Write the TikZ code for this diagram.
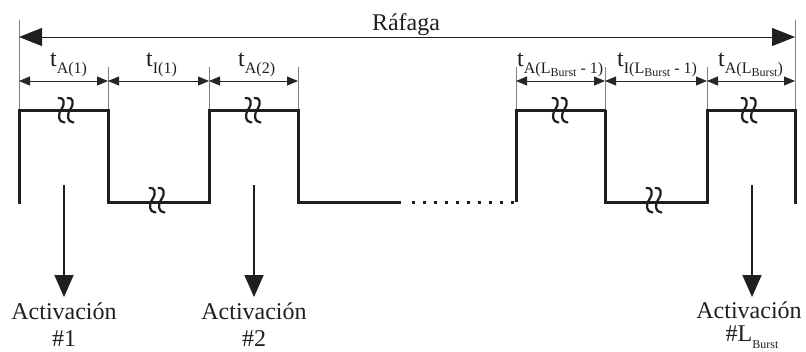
\documentclass[tikz,border=0pt]{standalone}
\usepackage{fontspec}
\setmainfont{Liberation Serif}
\usetikzlibrary{arrows.meta}
\newcommand\sbs[1]{\raisebox{-7pt}{\fontsize{16}{16}\selectfont #1}}
\newcommand\ssbs[1]{\raisebox{-3pt}{\fontsize{12}{12}\selectfont #1}}
\begin{document}
\begin{tikzpicture}[x=1pt,y=-1pt,
  pulse/.style={line width=3pt,black!88,line join=miter},
  dotline/.style={line width=3pt,black!88,dash pattern=on 3pt off 8pt},
  tick/.style={black!50,line width=0.8pt},
  dim/.style={black!85,line width=0.9pt,{Triangle[length=11pt,width=9pt]}-{Triangle[length=11pt,width=9pt]}},
  burst/.style={black!88,line width=1pt,{Triangle[length=23pt,width=18pt]}-{Triangle[length=23pt,width=18pt]}},
  actarrow/.style={black!88,line width=1.8pt,-{Triangle[length=22pt,width=19pt]}},
  txt/.style={inner sep=0pt,font=\fontsize{24}{28}\selectfont,text=black!88},
  squig/.pic={
    \foreach \d in {-4.5,4.5}{
      \draw[line width=2.2pt,black!88,line cap=round]
        (\d-3,-12) .. controls (\d+2.5,-13) and (\d+4,-7) .. (\d,-1)
        .. controls (\d-4,5) and (\d-3.5,12) .. (\d+3,12.5);
    }
  }]
\useasboundingbox (0,0) rectangle (806,351);

% key coordinates
\coordinate (L0) at (19,20);   \coordinate (L1) at (19,110);
\coordinate (R0) at (795,20);  \coordinate (R1) at (795,110);
\coordinate (b0) at (19,37);   \coordinate (b1) at (795,37);
\foreach \n/\x in {t1/108,t2/209,t3/298,t4/516,t5/605,t6/707}{
  \coordinate (\n a) at (\x,67); \coordinate (\n b) at (\x,110);
}

% ticks
\draw[tick] (L0) -- (L1);
\draw[tick] (R0) -- (R1);
\foreach \n in {t1,t2,t3,t4,t5,t6}{ \draw[tick] (\n a) -- (\n b); }

% burst arrow
\draw[burst] (b0) -- (b1);
\node[txt,anchor=base] (rafaga) at (406,30) {Ráfaga};

% dimension arrows
\coordinate (d0) at (19,81); \coordinate (d1) at (108,81); \coordinate (d2) at (209,81);
\coordinate (d3) at (298,81); \coordinate (d4) at (516,81); \coordinate (d5) at (605,81);
\coordinate (d6) at (707,81); \coordinate (d7) at (795,81);
\draw[dim] (d0) -- (d1);
\draw[dim] (d1) -- (d2);
\draw[dim] (d2) -- (d3);
\draw[dim] (d4) -- (d5);
\draw[dim] (d5) -- (d6);
\draw[dim] (d6) -- (d7);

% labels
\node[txt,anchor=base west] (lA1) at (50,66) {t\sbs{A(1)}};
\node[txt,anchor=base west] (lI1) at (146,66) {t\sbs{I(1)}};
\node[txt,anchor=base west] (lA2) at (238,66) {t\sbs{A(2)}};
\node[txt,anchor=base west] (lAL1) at (517,66) {t\sbs{A(L\ssbs{Burst} - 1)}};
\node[txt,anchor=base west] (lIL1) at (617,66) {t\sbs{I(L\ssbs{Burst} - 1)}};
\node[txt,anchor=base west] (lAL) at (718,66) {t\sbs{A(L\ssbs{Burst})}};

% pulse train
\draw[pulse] (19,204) -- (19,110) -- (108,110) -- (108,202) -- (209,202) -- (209,110)
  -- (298,110) -- (298,202) -- (401,202);
\draw[dotline] (411.5,202) -- (516,202);
\draw[pulse] (516,202) -- (516,110) -- (606,110);
\draw[pulse] (605,110) -- (605,202) -- (707,202) -- (707,110) -- (795,110) -- (795,204);

% squiggles
\pic at (66,110) {squig};
\pic at (157,200) {squig};
\pic at (253,110) {squig};
\pic at (560,110) {squig};
\pic at (654,200) {squig};
\pic at (749,110) {squig};

% activation arrows
\foreach \n/\x in {a1/64,a2/254,a3/752}{
  \coordinate (\n s) at (\x,185); \coordinate (\n e) at (\x,297);
  \draw[actarrow] (\n s) -- (\n e);
}
\node[txt,anchor=base] (act1) at (64,319) {Activación};
\node[txt,anchor=base] (act1n) at (64,346) {\#1};
\node[txt,anchor=base] (act2) at (254,319) {Activación};
\node[txt,anchor=base] (act2n) at (254,346) {\#2};
\node[txt,anchor=base] (act3) at (749,318) {Activación};
\node[txt,anchor=base] (act3n) at (752,341) {\#L\sbs{\fontsize{12}{12}\selectfont Burst}};
\end{tikzpicture}
\end{document}
